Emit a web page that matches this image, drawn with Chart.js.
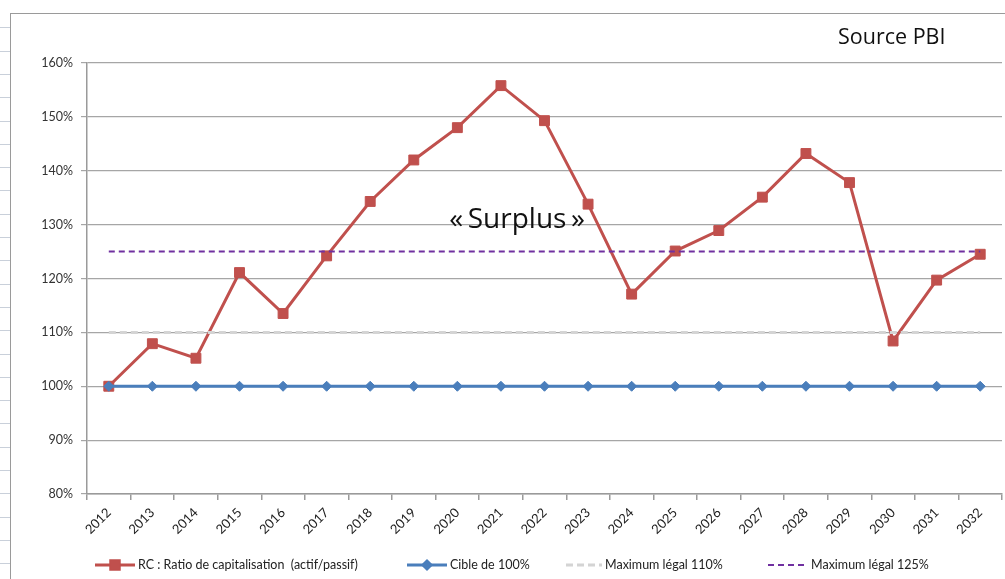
<!DOCTYPE html>
<html>
<head>
<meta charset="utf-8">
<script src="https://cdn.jsdelivr.net/npm/chart.js@4/dist/chart.umd.min.js"></script>
<style>
  body { margin: 0; background: #fff; }
  #wrap { position: relative; width: 1005px; height: 579px; overflow: hidden; }
  #sheet { position: absolute; left: 0; top: 0; width: 10px; height: 579px;
           background-image: repeating-linear-gradient(to bottom, transparent 0, transparent 22.3px, #c9d0da 22.3px, #c9d0da 23.3px);
           background-position: 0 5px; }
  #frame { position: absolute; left: 10px; top: 13px; right: -5px; bottom: -5px;
           border-left: 1.5px solid #9a9a9a; border-top: 1.5px solid #9a9a9a; }
  canvas { position: absolute; left: 0; top: 0; }
</style>
</head>
<body>
<div id="wrap">
  <div id="sheet"></div>
  <div id="frame"></div>
  <canvas id="myChart" width="1010" height="579"></canvas>
</div>
<script>
// ---- data
var years = ['2012','2013','2014','2015','2016','2017','2018','2019','2020','2021','2022',
             '2023','2024','2025','2026','2027','2028','2029','2030','2031','2032'];
var ratioRC = [100, 107.9, 105.2, 121.1, 113.5, 124.2, 134.3, 142.0, 148.0, 155.8, 149.3,
               133.8, 117.1, 125.1, 128.9, 135.1, 143.2, 137.8, 108.4, 119.7, 124.5];
var cible100 = [100,100,100,100,100,100,100,100,100,100,100,100,100,100,100,100,100,100,100,100,100];
var max110 = [110,110,110,110,110,110,110,110,110,110,110,110,110,110,110,110,110,110,110,110,110];
var max125 = [125,125,125,125,125,125,125,125,125,125,125,125,125,125,125,125,125,125,125,125,125];
var seriesNames = ['RC : Ratio de capitalisation  (actif/passif)', 'Cible de 100%',
                   'Maximum légal 110%', 'Maximum légal 125%'];
var yTicks = [80, 90, 100, 110, 120, 130, 140, 150, 160];
var surplusLabel = '\u00ab\u2009Surplus\u2009\u00bb';
var sourceLabel = 'Source PBI';

var FONT = 'Lato, "Open Sans", sans-serif';

// ---- legend + annotations drawn on the canvas
var extras = {
    id: 'extras',
    afterDraw: function (chart){
        var ctx = chart.ctx;
        var xs = chart.scales.x, ys = chart.scales.y;
        ctx.save();
        // surplus annotation
        ctx.fillStyle = '#111';
        ctx.textAlign = 'center';
        ctx.textBaseline = 'middle';
        ctx.font = '28px "Open Sans", sans-serif';
        ctx.fillText(surplusLabel, xs.getPixelForValue(9.37), ys.getPixelForValue(130.9));
        // source
        ctx.textAlign = 'left';
        ctx.font = '21.5px "Open Sans", sans-serif';
        ctx.fillText(sourceLabel, 838, 38);
        // legend
        var starts = [95, 407, 566, 768];
        var lens = [40, 40, 36, 40];
        var ly = 565;
        ctx.font = '12.5px ' + FONT;
        ctx.textBaseline = 'middle';
        chart.data.datasets.forEach(function (ds, i){
            var x0 = starts[i], x1 = starts[i] + lens[i];
            ctx.strokeStyle = ds.borderColor;
            ctx.lineWidth = ds.borderWidth;
            ctx.setLineDash(ds.borderDash || []);
            ctx.beginPath();
            ctx.moveTo(x0, ly);
            ctx.lineTo(x1, ly);
            ctx.stroke();
            ctx.setLineDash([]);
            if (ds.pointRadius > 0){
                Chart.helpers.drawPoint(ctx, {pointStyle: ds.pointStyle, radius: ds.pointRadius - 1,
                                              borderWidth: 1, rotation: 0}, (x0 + x1) / 2, ly);
                ctx.fillStyle = ds.pointBackgroundColor;
                ctx.fill();
            }
            ctx.fillStyle = '#222';
            ctx.fillText(ds.label, x1 + 3, ly);
        });
        ctx.restore();
    }
};

var datasets = [
    {label: seriesNames[0], data: ratioRC, borderColor: '#c0504d', borderWidth: 3,
     pointStyle: 'rect', pointRadius: 7, pointBackgroundColor: '#c0504d', pointBorderColor: '#c0504d',
     pointBorderWidth: 1, order: 4},
    {label: seriesNames[1], data: cible100, borderColor: '#4a7ebb', borderWidth: 3,
     pointStyle: 'rectRot', pointRadius: 5, pointBackgroundColor: '#4a7ebb', pointBorderColor: '#4a7ebb',
     pointBorderWidth: 1, order: 3},
    {label: seriesNames[2], data: max110, borderColor: '#d4d4d4', borderWidth: 3, borderDash: [7, 4],
     pointRadius: 0, order: 2},
    {label: seriesNames[3], data: max125, borderColor: '#7030a0', borderWidth: 2, borderDash: [6, 4],
     pointRadius: 0, order: 1}
];

var ctx = document.getElementById('myChart');
var myChart = new Chart(ctx, {
    type: 'line',
    data: {labels: years, datasets: datasets},
    options: {
        responsive: false,
        animation: false,
        layout: {padding: {top: 63, right: 0, left: 0, bottom: 0}},
        plugins: {legend: {display: false}, tooltip: {enabled: false}},
        elements: {line: {tension: 0}},
        scales: {
            x: {
                offset: true,
                grid: {offset: true, drawOnChartArea: false, drawTicks: true, tickLength: 6,
                       color: '#9a9a9a', lineWidth: 1.5},
                border: {color: '#9a9a9a', width: 1.5},
                ticks: {maxRotation: 45, minRotation: 45, autoSkip: false, padding: 5,
                        color: '#222', font: {family: FONT, size: 13}},
                afterFit: function (s){ s.height = 85; s.paddingRight = 0; s.paddingLeft = 0; }
            },
            y: {
                min: 80, max: 160,
                afterBuildTicks: function (s){ s.ticks = yTicks.map(function (v){ return {value: v}; }); },
                grid: {color: '#a6a6a6', lineWidth: 1.2, tickLength: 6},
                border: {color: '#9a9a9a', width: 1.5},
                ticks: {padding: 8, color: '#333', font: {family: FONT, size: 12.5},
                        callback: function (v){ return v + '%'; }},
                afterFit: function (s){ s.width = 87; s.paddingTop = 0; s.paddingBottom = 0; }
            }
        }
    },
    plugins: [extras]
});
</script>
</body>
</html>
